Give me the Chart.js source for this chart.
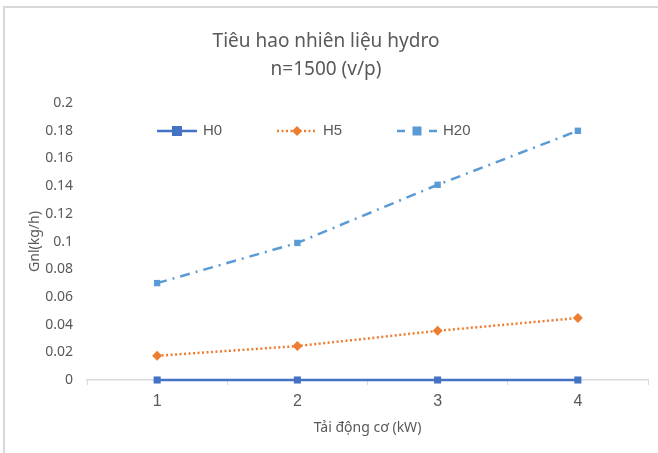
<!DOCTYPE html>
<html>
<head>
<meta charset="utf-8">
<script src="https://cdn.jsdelivr.net/npm/chart.js@4"></script>
<style>
  html, body { margin: 0; padding: 0; background: #fff; }
  #wrap { width: 658px; height: 453px; }
</style>
</head>
<body>
<div id="wrap"><canvas id="fuelChart" width="658" height="453"></canvas></div>
<script>
const loads = ['1', '2', '3', '4'];
const h0 = [0, 0, 0, 0];
const h5 = [0.0175, 0.0245, 0.0355, 0.0448];
const h20 = [0.070, 0.099, 0.141, 0.180];
const yTicks = [0, 0.02, 0.04, 0.06, 0.08, 0.1, 0.12, 0.14, 0.16, 0.18, 0.2];

const textColor = '#595959';
const lineGrey = '#d9d9d9';

// Excel-style frame (top and left edge only)
const framePlugin = {
  id: 'frame',
  beforeDraw(chart) {
    const c = chart.ctx;
    c.save();
    c.strokeStyle = lineGrey;
    c.lineWidth = 2;
    c.beginPath();
    c.moveTo(4, 453);
    c.lineTo(4, 7);
    c.lineTo(658, 7);
    c.stroke();
    c.restore();
  }
};

// legend with line sample + marker, drawn over the plot area
const lineLegend = {
  id: 'lineLegend',
  afterDraw(chart) {
    const c = chart.ctx;
    const y = 131;
    c.save();
    chart.data.datasets.forEach((ds, i) => {
      const x0 = 157 + i * 120;
      c.strokeStyle = ds.borderColor;
      c.lineWidth = ds.borderWidth;
      c.setLineDash(ds.legendDash || []);
      c.beginPath();
      c.moveTo(x0, y);
      c.lineTo(x0 + 40, y);
      c.stroke();
      c.setLineDash([]);
      c.fillStyle = ds.pointBackgroundColor;
      const r = ds.pointRadius;
      if (ds.pointStyle === 'rectRot') {
        c.beginPath();
        c.moveTo(x0 + 20, y - r);
        c.lineTo(x0 + 20 + r, y);
        c.lineTo(x0 + 20, y + r);
        c.lineTo(x0 + 20 - r, y);
        c.closePath();
        c.fill();
      } else {
        c.fillRect(x0 + 20 - r, y - r, 2 * r, 2 * r);
      }
      c.fillStyle = textColor;
      c.font = '15px "Liberation Sans", Arial, sans-serif';
      c.textBaseline = 'middle';
      c.fillText(ds.label, x0 + 46, y);
    });
    c.restore();
  }
};

new Chart(document.getElementById('fuelChart').getContext('2d'), {
  type: 'line',
  data: {
    labels: loads,
    datasets: [{
      label: 'H0',
      data: h0,
      borderColor: '#4472C4',
      backgroundColor: '#4472C4',
      pointBackgroundColor: '#4472C4',
      pointBorderWidth: 0,
      borderWidth: 2.5,
      pointStyle: 'rect',
      pointRadius: 5,
      clip: false,
      order: 3
    }, {
      label: 'H5',
      data: h5,
      borderColor: '#ED7D31',
      backgroundColor: '#ED7D31',
      pointBackgroundColor: '#ED7D31',
      pointBorderWidth: 0,
      borderWidth: 2.5,
      borderDash: [2, 2.5],
      legendDash: [2, 2.5],
      pointStyle: 'rectRot',
      pointRadius: 5,
      clip: false,
      order: 2
    }, {
      label: 'H20',
      data: h20,
      borderColor: '#5B9BD5',
      backgroundColor: '#5B9BD5',
      pointBackgroundColor: '#5B9BD5',
      pointBorderWidth: 0,
      borderWidth: 2.5,
      borderDash: [10, 6, 2, 6],
      legendDash: [8, 8],
      pointStyle: 'rect',
      pointRadius: 4.5,
      clip: false,
      order: 1
    }]
  },
  options: {
    responsive: false,
    animation: false,
    layout: { padding: { left: 4, right: 10, top: 8, bottom: 13 } },
    plugins: {
      legend: { display: false },
      tooltip: { enabled: false },
      title: {
        display: true,
        text: ['Tiêu hao nhiên liệu hydro', 'n=1500 (v/p)'],
        color: textColor,
        font: { family: '"Noto Sans", sans-serif', size: 19, weight: 'normal', lineHeight: 1.45 },
        padding: { top: 20, bottom: 20 }
      }
    },
    scales: {
      x: {
        offset: true,
        grid: { offset: true, drawOnChartArea: false, drawTicks: true, tickLength: 5, color: lineGrey },
        border: { color: lineGrey, width: 1.5 },
        ticks: { color: textColor, padding: 7, font: { family: '"Liberation Sans", Arial, sans-serif', size: 16 } },
        title: {
          display: true,
          text: 'Tải động cơ (kW)',
          color: textColor,
          font: { family: '"Noto Sans", sans-serif', size: 14 },
          padding: { top: 2 }
        },
        afterFit(scale) { scale.height = 60; }
      },
      y: {
        min: 0,
        max: 0.2,
        grid: { display: false, drawTicks: false },
        border: { display: false },
        afterBuildTicks(scale) { scale.ticks = yTicks.map(v => ({ value: v })); },
        ticks: {
          color: textColor,
          padding: 14,
          font: { family: '"Noto Sans", sans-serif', size: 14 },
          callback: v => String(+v.toFixed(2))
        },
        title: {
          display: true,
          text: 'Gnl(kg/h)',
          color: textColor,
          font: { family: '"Noto Sans", sans-serif', size: 14 },
          padding: { top: 23, bottom: 0 }
        },
        afterFit(scale) { scale.width = 83; }
      }
    }
  },
  plugins: [framePlugin, lineLegend]
});
</script>
</body>
</html>
